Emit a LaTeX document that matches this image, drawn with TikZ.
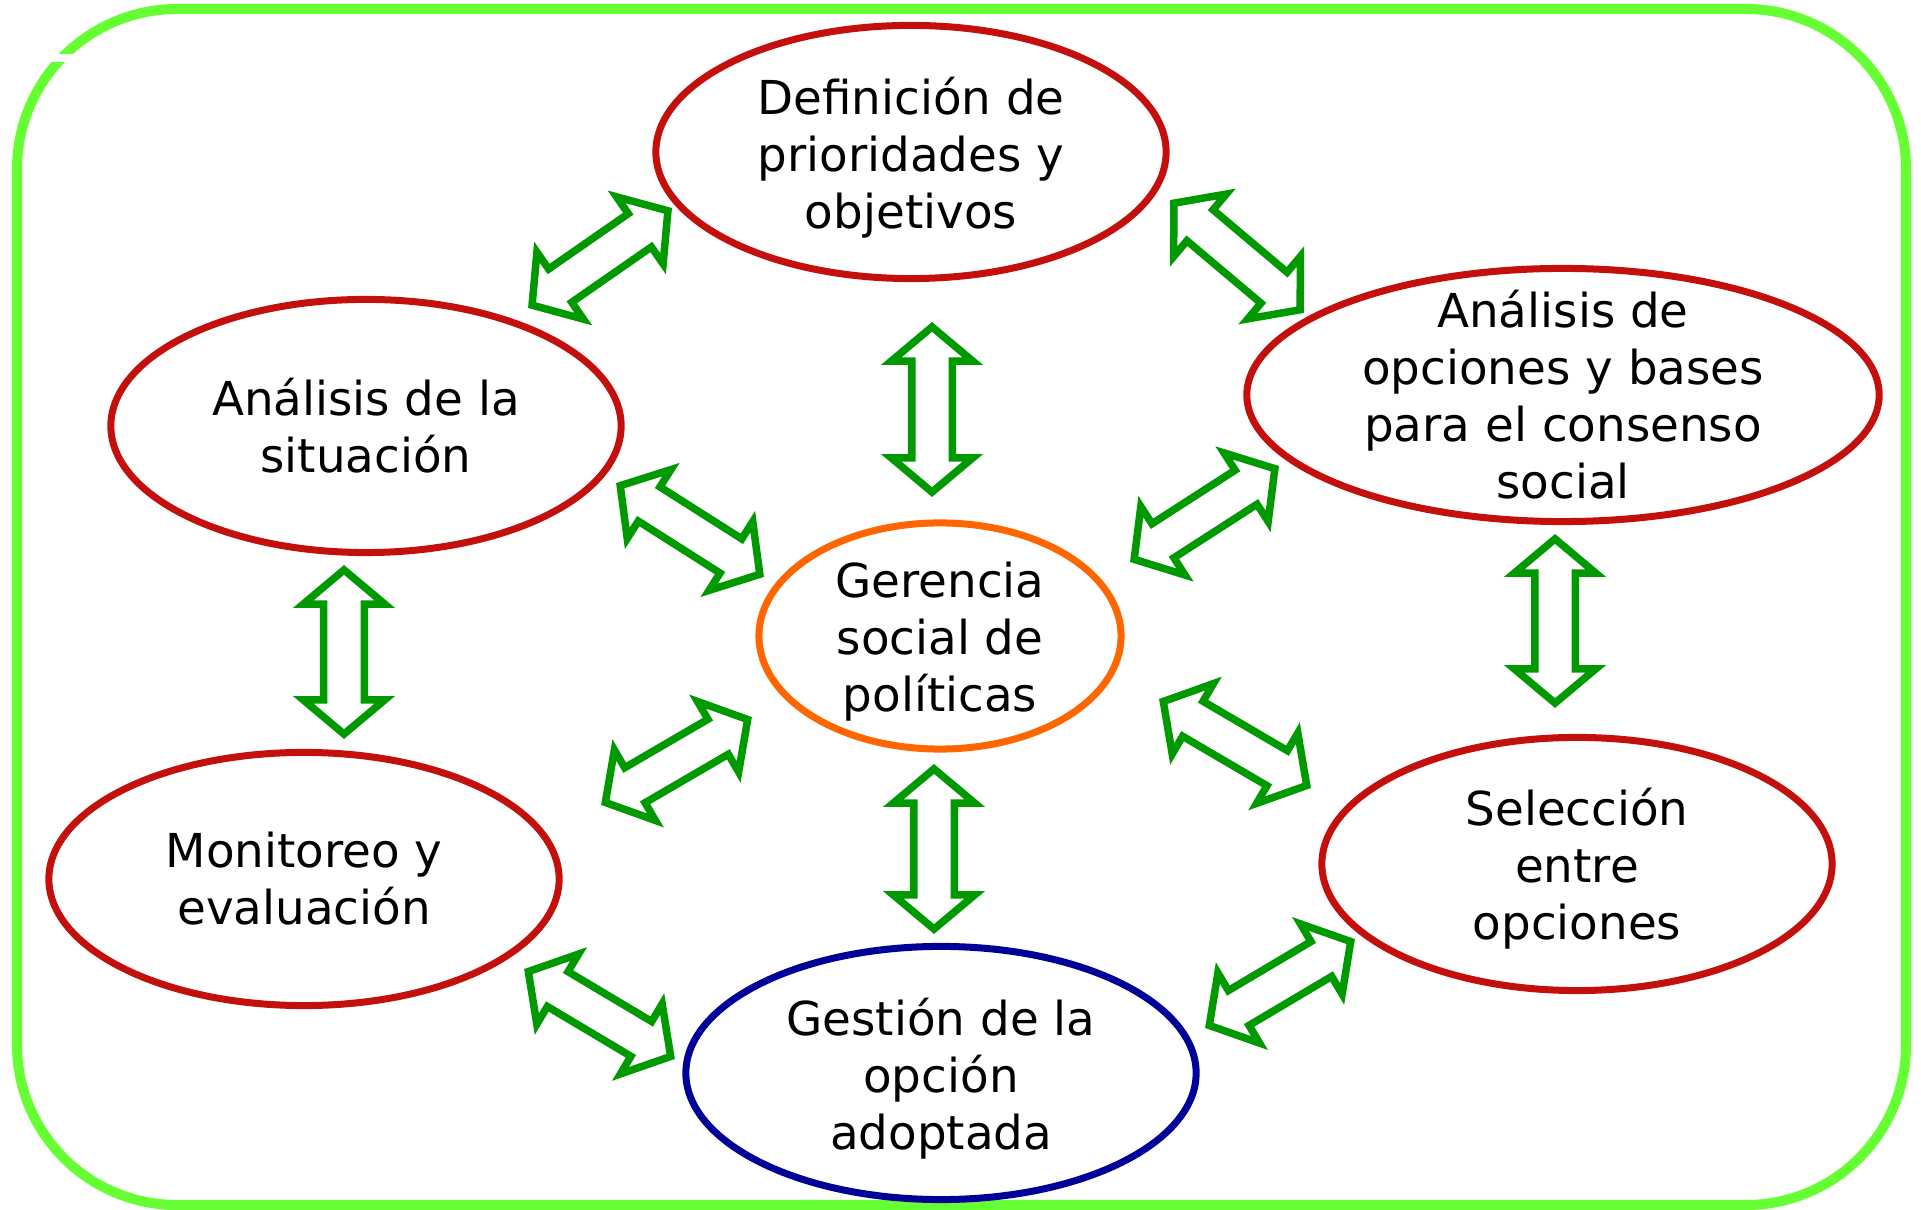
\documentclass[tikz,border=0pt]{standalone}
\usepackage{fontspec}
\setmainfont{DejaVu Sans}
\usetikzlibrary{shapes.geometric,shapes.arrows,calc}
\definecolor{bubblered}{RGB}{196,16,12}
\definecolor{centerorange}{RGB}{255,102,0}
\definecolor{stepblue}{RGB}{0,0,153}
\definecolor{arrowgreen}{RGB}{0,153,0}
\definecolor{framegreen}{RGB}{102,255,51}

\begin{document}
\begin{tikzpicture}[x=0.01cm,y=-0.01cm]
\tikzstyle{every node}+=[inner sep=0pt, align=center, font=\fontsize{13.3}{16.2}\selectfont]
\tikzstyle{bubble}=[ellipse, line width=0.07cm, minimum width=5.1cm, minimum height=2.53cm]
\tikzstyle{twoway}=[double arrow, draw=arrowgreen, fill=white, line width=0.075cm, text height=0pt, text depth=0pt, inner xsep=0pt, inner ysep=0.165cm, double arrow head extend=0.205cm, double arrow tip angle=100]
\useasboundingbox (0,0) rectangle (1921,1210);
\draw [framegreen, line width=0.1cm, rounded corners=1.6cm] (17,9) rectangle (1906,1205);
\fill [white] (50,54) rectangle (77,62);
\node [bubble, draw=bubblered] (def) at (911,152) {};
\node (deftext) at ($(def)+(0,6)$) {Definición de\\prioridades y\\objetivos};
\node [bubble, draw=bubblered] (sit) at (366,426) {};
\node (sittext) at (sit) {Análisis de la\\situación};
\node [bubble, draw=bubblered, minimum width=6.32cm] (opc) at (1563,395) {};
\node (opctext) at (opc) {Análisis de\\opciones y bases\\para el consenso\\social};
\node [bubble, draw=centerorange, minimum width=3.62cm, minimum height=2.26cm] (ger) at (940,636) {};
\node (gertext) at ($(ger)+(0,6)$) {Gerencia\\social de\\políticas};
\node [bubble, draw=bubblered] (mon) at (304,879) {};
\node (montext) at (mon) {Monitoreo y\\evaluación};
\node [bubble, draw=bubblered] (sel) at (1577,864) {};
\node (seltext) at ($(sel)+(0,5)$) {Selección\\entre\\opciones};
\node [bubble, draw=stepblue] (ges) at (941,1073) {};
\node (gestext) at ($(ges)+(0,6)$) {Gestión de la\\opción\\adoptada};
\coordinate (sitdefA) at (528,308);
\coordinate (sitdefB) at (672,208);
\coordinate (defopcA) at (1170,200);
\coordinate (defopcB) at (1304,313);
\coordinate (defgerA) at (932,322);
\coordinate (defgerB) at (932,497);
\coordinate (sitgerA) at (616,483);
\coordinate (sitgerB) at (764,577);
\coordinate (opcgerA) at (1279,466);
\coordinate (opcgerB) at (1130,562);
\coordinate (sitmonA) at (344,565);
\coordinate (sitmonB) at (344,739);
\coordinate (opcselA) at (1555,534);
\coordinate (opcselB) at (1555,708);
\coordinate (germonA) at (752,717);
\coordinate (germonB) at (601,805);
\coordinate (gerselA) at (1159,699);
\coordinate (gerselB) at (1311,788);
\coordinate (gergesA) at (934,764);
\coordinate (gergesB) at (934,934);
\coordinate (mongesA) at (524,969);
\coordinate (mongesB) at (675,1059);
\coordinate (selgesA) at (1355,939);
\coordinate (selgesB) at (1205,1028);
\foreach \pair in {sitdef,defopc,defger,sitger,opcger,sitmon,opcsel,germon,gersel,gerges,monges,selges}
  \path let \p1=($(\pair B)-(\pair A)$), \n1={atan2(\y1,\x1)}, \n2={veclen(\x1,\y1)-2.8} in
    node [twoway, rotate=\n1, minimum height=\n2] (\pair arrow) at ($(\pair A)!0.5!(\pair B)$) {};
\end{tikzpicture}
\end{document}
